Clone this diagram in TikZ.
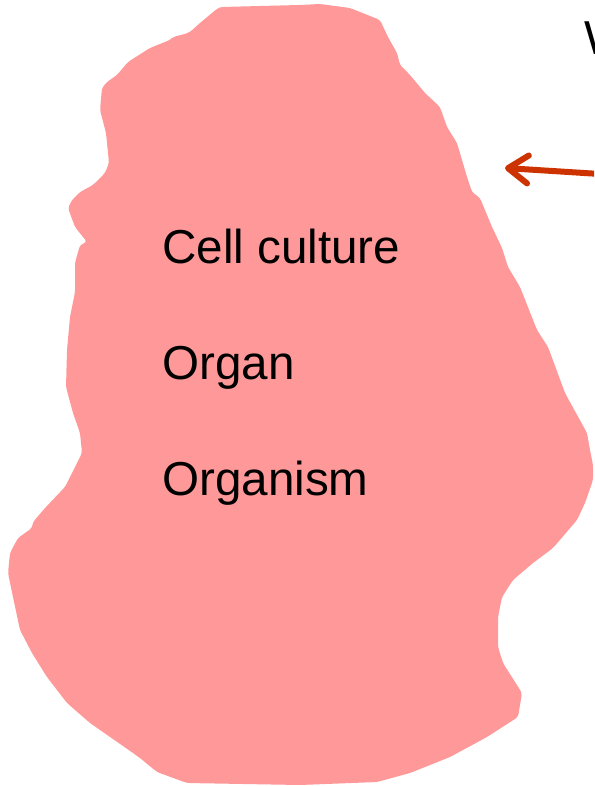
\documentclass[tikz,border=0pt]{standalone}
\usepackage{fontspec}
\setmainfont{Liberation Sans}
\usetikzlibrary{arrows.meta}
\definecolor{blobpink}{RGB}{255,153,153}
\definecolor{arrowred}{RGB}{204,51,0}
\tikzset{
  label text/.style={anchor=base west, inner sep=0pt, font=\fontsize{47.6}{56}\selectfont, text=black},
  blob/.style={fill=blobpink, draw=none, rounded corners=3pt},
  pointer/.style={draw=arrowred, line width=6pt, line cap=round, line join=round,
    -{Straight Barb[length=20pt,width=28pt,line cap=round,line join=round]}}
}
\begin{document}
\begin{tikzpicture}[x=1pt,y=-1pt]
\useasboundingbox (0,0) rectangle (594,786);
\fill[white] (0,0) rectangle (594,786);
\clip (0,0) rectangle (594,786);
\path[blob] (222,7) -- (260,6) -- (300,5) -- (320,4) -- (350,8) -- (380,20) -- (388,37) -- (397,53) -- (400,65) -- (410,75) -- (425,93) -- (440,107) -- (447,127) -- (457,143) -- (467,177) -- (472,192) -- (480,198) -- (492,227) -- (502,248) -- (508,267) -- (520,287) -- (537,330) -- (548,347) -- (565,393) -- (587,433) -- (590,450) -- (593,465) -- (593,480) -- (585,503) -- (577,520) -- (553,548) -- (533,563) -- (513,580) -- (502,597) -- (498,617) -- (498,647) -- (503,663) -- (522,693) -- (518,717) -- (487,737) -- (450,757) -- (410,773) -- (377,782) -- (300,785) -- (187,783) -- (157,772) -- (140,758) -- (133,753) -- (90,723) -- (67,703) -- (47,677) -- (32,653) -- (20,630) -- (13,597) -- (8,573) -- (10,553) -- (18,538) -- (32,528) -- (33,522) -- (45,508) -- (65,487) -- (77,463) -- (82,453) -- (80,433) -- (73,413) -- (66,387) -- (67,350) -- (70,317) -- (75,292) -- (75,263) -- (80,245) -- (87,242) -- (75,227) -- (68,208) -- (72,200) -- (80,192) -- (93,185) -- (105,173) -- (109,163) -- (106,133) -- (100,110) -- (102,88) -- (107,82) -- (117,75) -- (128,62) -- (150,48) -- (170,40) -- (173,37) -- (185,34) -- (190,32) -- (200,23) -- (218,8) -- cycle;
\node[label text] (cell) at (162,263) {Cell culture};
\node[label text] (organ) at (162,379) {Organ};
\node[label text] (organism) at (162,495) {Organism};
\node[label text] (wtext) at (584,55) {W};
\coordinate (arrowstart) at (600,174);
\coordinate (arrowtip) at (505,168);
\draw[pointer] (arrowstart) -- (arrowtip);
\end{tikzpicture}
\end{document}
